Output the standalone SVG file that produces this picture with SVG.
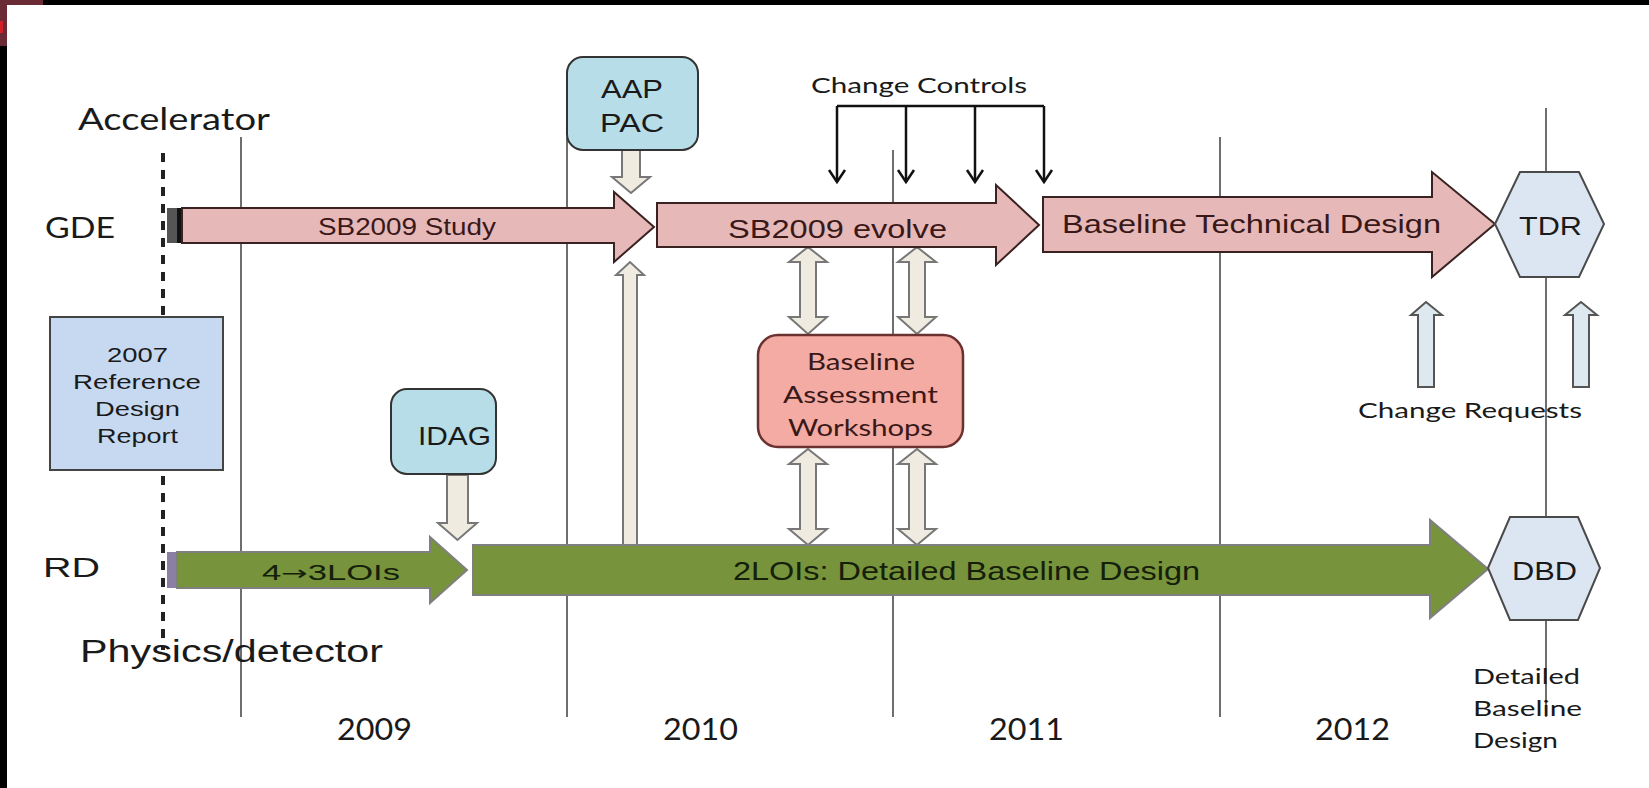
<svg xmlns="http://www.w3.org/2000/svg" width="1649" height="788" viewBox="0 0 1649 788">
<defs>
<style>
.grid{stroke:#6e6e6e;stroke-width:2;fill:none}
.dash{stroke:#222;stroke-width:4;stroke-dasharray:9 8;fill:none}
.pink{fill:#e6b9b8;stroke:#3a2222;stroke-width:2}
.green{fill:#77933c;stroke:#7f7f7f;stroke-width:2}
.hex{fill:#dce6f2;stroke:#4a4a4a;stroke-width:2}
.teal{fill:#b7dde8;stroke:#333;stroke-width:2}
.blk{fill:#efebe0;stroke:#777;stroke-width:2}
.cr{fill:#dde9ef;stroke:#555;stroke-width:2}
.cc{stroke:#111;stroke-width:2.5;fill:none}
.arial{font-family:"Liberation Sans",Arial,sans-serif;fill:#1a1a1a}
.cal{font-family:Lato,"Open Sans",sans-serif;fill:#1a1a1a}
.pt{fill:#3a1818}
.gt{fill:#14200a}
</style>
<marker id="vhead" viewBox="0 0 16 20" refX="14" refY="10" markerWidth="16" markerHeight="20" markerUnits="userSpaceOnUse" orient="auto">
<path d="M2,2 L14,10 L2,18" fill="none" stroke="#111" stroke-width="2.5"/>
</marker>
</defs>
<rect x="0" y="0" width="1649" height="788" fill="#ffffff"/>
<rect x="0" y="0" width="1649" height="5" fill="#000"/>
<rect x="0" y="0" width="7" height="788" fill="#000"/>
<rect x="0" y="0" width="43" height="5" fill="#6b2b36"/>
<rect x="0" y="0" width="7" height="46" fill="#6b2b36"/>
<rect x="0" y="21" width="3" height="12" fill="#d0202a"/>

<g id="grid">
<line class="grid" x1="241" y1="137" x2="241" y2="717"/>
<line class="grid" x1="567" y1="137" x2="567" y2="717"/>
<line class="grid" x1="893" y1="150" x2="893" y2="717"/>
<line class="grid" x1="1220" y1="137" x2="1220" y2="717"/>
<line class="grid" x1="1546" y1="108" x2="1546" y2="717"/>
<line class="dash" x1="163" y1="153" x2="163" y2="650"/>
</g>

<g id="labels">
<text class="cal" x="78" y="130" font-size="30" textLength="192" lengthAdjust="spacingAndGlyphs">Accelerator</text>
<text class="cal" x="45" y="238" font-size="29" textLength="70" lengthAdjust="spacingAndGlyphs">GDE</text>
<text class="arial" x="43" y="577" font-size="28" textLength="57" lengthAdjust="spacingAndGlyphs">RD</text>
<text class="arial" x="80" y="662" font-size="31" textLength="303" lengthAdjust="spacingAndGlyphs">Physics/detector</text>
<text class="cal" x="337" y="740" font-size="30" textLength="75" lengthAdjust="spacingAndGlyphs">2009</text>
<text class="cal" x="663" y="740" font-size="30" textLength="75" lengthAdjust="spacingAndGlyphs">2010</text>
<text class="cal" x="989" y="740" font-size="30" textLength="75" lengthAdjust="spacingAndGlyphs">2011</text>
<text class="cal" x="1315" y="740" font-size="30" textLength="75" lengthAdjust="spacingAndGlyphs">2012</text>
<text class="cal" x="1473" y="684" font-size="22" textLength="107" lengthAdjust="spacingAndGlyphs">Detailed</text>
<text class="cal" x="1473" y="716" font-size="22" textLength="109" lengthAdjust="spacingAndGlyphs">Baseline</text>
<text class="cal" x="1473" y="748" font-size="22" textLength="85" lengthAdjust="spacingAndGlyphs">Design</text>
<text class="cal" x="811" y="93" font-size="22" textLength="216" lengthAdjust="spacingAndGlyphs">Change Controls</text>
<text class="cal" x="1358" y="418" font-size="21" textLength="224" lengthAdjust="spacingAndGlyphs">Change Requests</text>
</g>

<g id="connectors">
<path class="blk" d="M622,150 H640 V177 H650 L631,193 L612,177 H622 Z"/>
<path class="blk" d="M623,545 V275 H616 L630,262 L644,275 H637 V545 Z"/>
<path class="blk" d="M447,475 H468 V523 H477 L457.5,540 L438,523 H447 Z"/>
<path class="blk" d="M808,247 L827,262 H816 V317 H827 L808,334 L789,317 H800 V262 H789 Z"/>
<path class="blk" d="M917,247 L936,262 H925 V317 H936 L917,334 L898,317 H909 V262 H898 Z"/>
<path class="blk" d="M808,449 L827,464 H816 V529 H827 L808,545 L789,529 H800 V464 H789 Z"/>
<path class="blk" d="M917,449 L936,464 H925 V529 H936 L917,545 L898,529 H909 V464 H898 Z"/>
<path class="cr" d="M1418,387 V315 H1411 L1426,302 L1442,315 H1434 V387 Z"/>
<path class="cr" d="M1573,387 V315 H1565 L1581,302 L1597,315 H1589 V387 Z"/>
<path class="cc" d="M837,106 H1044"/>
<line class="cc" x1="837" y1="106" x2="837" y2="182" marker-end="url(#vhead)"/>
<line class="cc" x1="906" y1="106" x2="906" y2="182" marker-end="url(#vhead)"/>
<line class="cc" x1="975" y1="106" x2="975" y2="182" marker-end="url(#vhead)"/>
<line class="cc" x1="1044" y1="106" x2="1044" y2="182" marker-end="url(#vhead)"/>
</g>

<g id="sb2009-study">
<rect x="167" y="208" width="10" height="35" fill="#555"/>
<rect x="177" y="208" width="5" height="35" fill="#111"/>
<path class="pink" d="M182,208 H614 V192 L654,227 L614,262 V243 H182 Z"/>
<text class="arial pt" x="318" y="235" font-size="24" textLength="178" lengthAdjust="spacingAndGlyphs">SB2009 Study</text>
</g>

<g id="sb2009-evolve">
<path class="pink" d="M657,203 H996 V185 L1039,225 L996,265 V247 H657 Z"/>
<text class="arial pt" x="728" y="238" font-size="25" textLength="219" lengthAdjust="spacingAndGlyphs">SB2009 evolve</text>
</g>

<g id="baseline-technical-design">
<path class="pink" d="M1043,197 H1432 V172 L1495,224 L1432,277 V252 H1043 Z"/>
<text class="arial pt" x="1062" y="233" font-size="25" textLength="379" lengthAdjust="spacingAndGlyphs">Baseline Technical Design</text>
</g>

<g id="tdr">
<polygon class="hex" points="1495,224 1520,172 1579,172 1604,224 1579,277 1520,277"/>
<text class="arial" x="1519" y="235" font-size="25" textLength="63" lengthAdjust="spacingAndGlyphs">TDR</text>
</g>

<g id="lois-4-3">
<rect x="167" y="552" width="10" height="36" fill="#8b7fa3"/>
<path class="green" d="M177,552 H430 V537 L467,570 L430,603 V588 H177 Z"/>
<text class="arial gt" x="262" y="580" font-size="22" textLength="138" lengthAdjust="spacingAndGlyphs">4<tspan font-family="DejaVu Sans" font-size="20">→</tspan>3LOIs</text>
</g>

<g id="lois-2">
<path class="green" d="M473,545 H1430 V520 L1488,569 L1430,618 V595 H473 Z"/>
<text class="arial gt" x="733" y="580" font-size="25" textLength="467" lengthAdjust="spacingAndGlyphs">2LOIs: Detailed Baseline Design</text>
</g>

<g id="dbd">
<polygon class="hex" points="1488,568 1510,517 1578,517 1600,568 1578,620 1510,620"/>
<text class="arial" x="1512" y="580" font-size="25" textLength="65" lengthAdjust="spacingAndGlyphs">DBD</text>
</g>

<g id="aap-pac">
<rect class="teal" x="567" y="57" width="131" height="93" rx="16"/>
<text class="arial" x="601" y="98" font-size="25" textLength="62" lengthAdjust="spacingAndGlyphs">AAP</text>
<text class="arial" x="600" y="132" font-size="25" textLength="64" lengthAdjust="spacingAndGlyphs">PAC</text>
</g>

<g id="idag">
<rect class="teal" x="391" y="389" width="105" height="85" rx="16"/>
<text class="arial" x="418" y="445" font-size="25" textLength="73" lengthAdjust="spacingAndGlyphs">IDAG</text>
</g>

<g id="rdr-2007">
<rect x="50" y="317" width="173" height="153" fill="#c6d9f1" stroke="#444" stroke-width="2"/>
<text class="arial" x="107" y="362" font-size="21" textLength="61" lengthAdjust="spacingAndGlyphs">2007</text>
<text class="arial" x="73" y="389" font-size="21" textLength="128" lengthAdjust="spacingAndGlyphs">Reference</text>
<text class="arial" x="95" y="416" font-size="21" textLength="85" lengthAdjust="spacingAndGlyphs">Design</text>
<text class="arial" x="97" y="443" font-size="21" textLength="81" lengthAdjust="spacingAndGlyphs">Report</text>
</g>

<g id="baseline-assessment-workshops">
<rect x="758" y="335" width="205" height="112" rx="20" fill="#f3aba3" stroke="#6b3030" stroke-width="2.5"/>
<text class="cal pt" x="807" y="370" font-size="24" textLength="108" lengthAdjust="spacingAndGlyphs">Baseline</text>
<text class="cal pt" x="783" y="403" font-size="24" textLength="155" lengthAdjust="spacingAndGlyphs">Assessment</text>
<text class="cal pt" x="788" y="436" font-size="24" textLength="145" lengthAdjust="spacingAndGlyphs">Workshops</text>
</g>
</svg>
